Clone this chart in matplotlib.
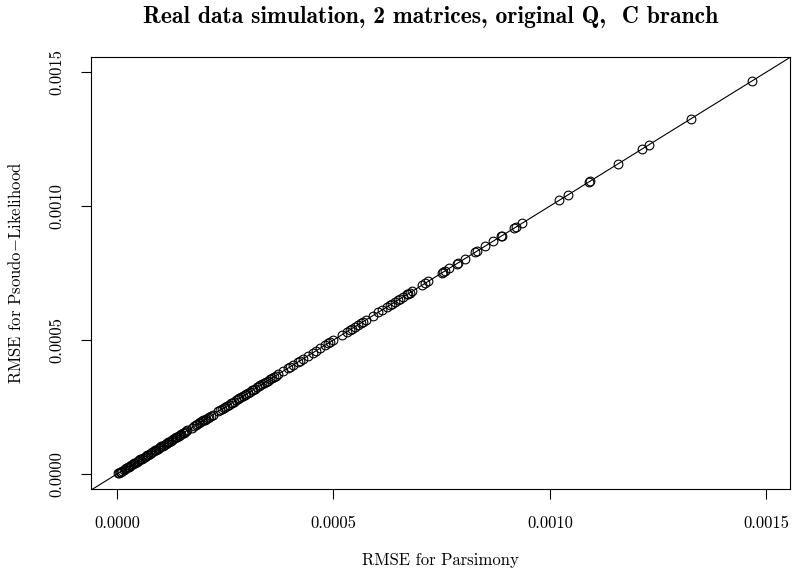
import matplotlib
matplotlib.use("Agg")
import matplotlib.pyplot as plt

plt.rcParams['font.family'] = ['cmr10', 'DejaVu Serif']
plt.rcParams['mathtext.fontset'] = 'cm'
plt.rcParams['axes.formatter.use_mathtext'] = True

title = "Real data simulation, 2 matrices, original Q,  C branch"
xlabel = "RMSE for Parsimony"
ylabel = r"RMSE for Psoudo$-$Likelihood"
tick_values = [0.0, 0.0005, 0.0010, 0.0015]
tick_labels = ["0.0000", "0.0005", "0.0010", "0.0015"]

# RMSE values (in units of 1e-6)
rmse_parsimony_u = [
    2.3, 4.6, 6.9, 9.2, 12.7, 16.2, 18.5, 21.9, 25.4, 27.7, 30.0, 33.5, 36.9, 39.3,
    42.7, 46.2, 48.5, 50.8, 54.3, 57.7, 61.2, 64.7, 67.0, 69.3, 72.7, 76.2, 78.5,
    82.0, 85.5, 87.8, 91.2, 94.7, 97.0, 99.3, 102.8, 106.2, 109.7, 113.2, 115.5,
    117.8, 121.2, 124.7, 127.0, 130.5, 134.0, 136.3, 139.7, 143.2, 145.5, 149.0,
    152.4, 154.7, 157.0, 159.4, 162.8, 173.2, 177.8, 182.5, 185.9, 189.4, 192.8,
    196.3, 199.8, 203.2, 206.7, 210.2, 213.6, 217.1, 220.6, 233.3, 237.9, 242.5,
    247.1, 250.6, 254.0, 258.7, 263.3, 266.7, 270.2, 274.8, 279.4, 282.9, 286.4,
    291.0, 295.6, 299.1, 302.5, 307.2, 311.8, 315.2, 318.7, 323.3, 328.0, 331.4,
    334.9, 339.5, 344.1, 348.7, 353.4, 358.0, 362.6, 367.2, 371.8, 383.4, 394.9,
    399.5, 406.5, 418.0, 422.6, 429.6, 441.1, 452.7, 459.6, 468.8, 480.4, 487.3,
    491.9, 498.8, 519.6, 531.1, 538.1, 542.7, 549.7, 556.6, 563.5, 568.1, 575.1,
    591.2, 602.8, 612.0, 623.6, 630.5, 635.1, 642.0, 649.0, 653.6, 660.5, 669.8,
    672.1, 676.7, 681.3, 704.4, 711.3, 718.3, 750.6, 752.9, 757.5, 766.8, 785.2,
    787.5, 803.7, 826.8, 831.4, 849.9, 868.4, 886.8, 889.2, 916.9, 921.5, 935.4,
    1020.8, 1041.6, 1090.1, 1092.4, 1157.1, 1212.5, 1228.7, 1325.7, 1466.5,
]
rmse_pseudo_u = [
    2.3, 4.6, 6.9, 9.2, 12.7, 16.2, 18.5, 21.9, 25.4, 27.7, 30.0, 33.5, 36.9, 39.3,
    42.7, 46.2, 48.5, 50.8, 54.3, 57.7, 61.2, 64.7, 67.0, 69.3, 72.7, 76.2, 78.5,
    82.0, 85.5, 87.8, 91.2, 94.7, 97.0, 99.3, 102.8, 106.2, 109.7, 113.2, 115.5,
    117.8, 121.2, 124.7, 127.0, 130.5, 134.0, 136.3, 139.7, 143.2, 145.5, 149.0,
    152.4, 154.7, 157.0, 159.4, 162.8, 173.2, 177.8, 182.5, 185.9, 189.4, 192.8,
    196.3, 199.8, 203.2, 206.7, 210.2, 213.6, 217.1, 220.6, 233.3, 237.9, 242.5,
    247.1, 250.6, 254.0, 258.7, 263.3, 266.7, 270.2, 274.8, 279.4, 282.9, 286.4,
    291.0, 295.6, 299.1, 302.5, 307.2, 311.8, 315.2, 318.7, 323.3, 328.0, 331.4,
    334.9, 339.5, 344.1, 348.7, 353.4, 358.0, 362.6, 367.2, 371.8, 383.4, 394.9,
    399.5, 406.5, 418.0, 422.6, 429.6, 441.1, 452.7, 459.6, 468.8, 480.4, 487.3,
    491.9, 498.8, 519.6, 531.1, 538.1, 542.7, 549.7, 556.6, 563.5, 568.1, 575.1,
    591.2, 602.8, 612.0, 623.6, 630.5, 635.1, 642.0, 649.0, 653.6, 660.5, 669.8,
    672.1, 676.7, 681.3, 704.4, 711.3, 718.3, 750.6, 752.9, 757.5, 766.8, 785.2,
    787.5, 803.7, 826.8, 831.4, 849.9, 868.4, 886.8, 889.2, 916.9, 921.5, 935.4,
    1020.8, 1041.6, 1090.1, 1092.4, 1157.1, 1212.5, 1228.7, 1325.7, 1466.5,
]
rmse_parsimony = [v * 1e-6 for v in rmse_parsimony_u]
rmse_pseudo = [v * 1e-6 for v in rmse_pseudo_u]

fig = plt.figure(figsize=(7.93, 5.75), dpi=100)
ax = fig.add_axes([91 / 793, 1 - 489 / 575, (790 - 91) / 793, (489 - 57) / 575])

ax.plot(rmse_parsimony, rmse_pseudo, linestyle='none', marker='o', markersize=6.3,
        markerfacecolor='none', markeredgecolor='black', markeredgewidth=0.8)
ax.axline((0, 0), slope=1, color='black', linewidth=0.8)

ax.set_xlim(-6.0e-5, 1.5543e-3)
ax.set_ylim(-5.6e-5, 1.556e-3)

ax.set_xticks(tick_values)
ax.set_xticklabels(tick_labels, fontsize=12)
ax.set_yticks(tick_values)
ax.set_yticklabels(tick_labels, fontsize=12, rotation=90, va='center')
ax.tick_params(direction='out', length=7, width=0.8, pad=12)
for s in ax.spines.values():
    s.set_linewidth(0.8)

ax.set_xlabel(xlabel, fontsize=12, labelpad=16)
ax.set_ylabel(ylabel, fontsize=12, labelpad=18)
fig.suptitle(title, fontsize=17, fontfamily='cmb10', x=(91 + 790) / 2 / 793 - 0.012,
             y=1 - 17 / 575, va='center')

fig.savefig("out.png", dpi=100)
